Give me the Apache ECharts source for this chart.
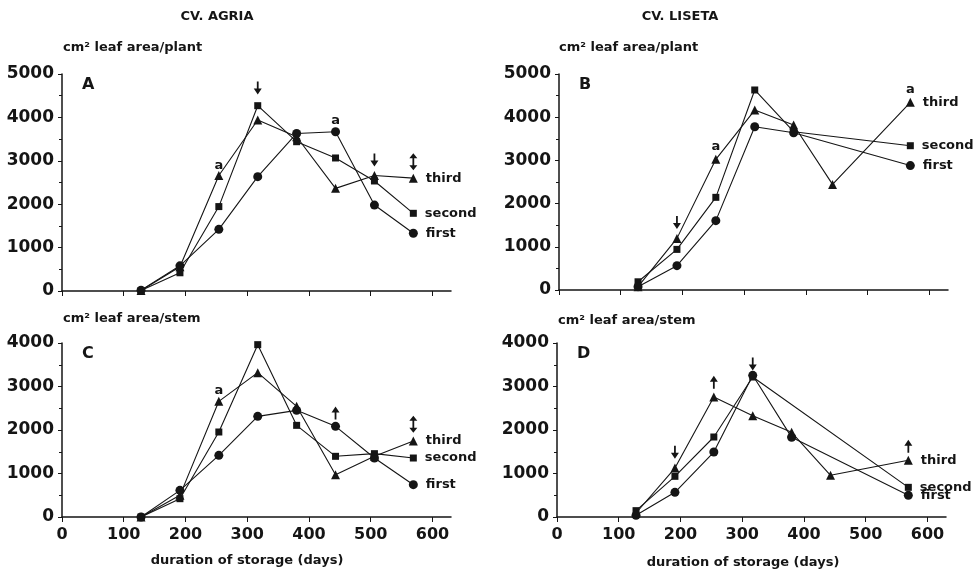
<!DOCTYPE html>
<html>
<head>
  <meta charset="utf-8">
  <title>leaf area</title>
  <style>
    html, body { margin: 0; padding: 0; background: #fff; }
    #chart { width: 977px; height: 574px; }
  </style>
</head>
<body>
  <div id="chart"></div>
  <script src="https://cdn.jsdelivr.net/npm/echarts@6/dist/echarts.min.js"></script>
  <script>
    // sampling days (duration of storage)
    const days = [128, 191, 254, 317, 380, 443, 506, 569];
    const xTicks = [0, 100, 200, 300, 400, 500, 600];

    // A: Agria, leaf area / plant
    const aFirst = [20, 580, 1420, 2635, 3630, 3670, 1980, 1330];
    const aSecond = [10, 420, 1945, 4270, 3440, 3065, 2535, 1790];
    const aThird = [10, 560, 2660, 3940, 3555, 2365, 2660, 2600];
    // B: Liseta, leaf area / plant (null = not sampled)
    const bFirst = [77, 563, 1605, 3780, 3640, null, null, 2880];
    const bSecond = [190, 940, 2145, 4630, 3665, null, null, 3340];
    const bThird = [77, 1195, 3025, 4165, 3820, 2445, null, 4345];
    // C: Agria, leaf area / stem
    const cFirst = [0, 613, 1418, 2314, 2452, 2084, 1356, 743];
    const cSecond = [0, 421, 1954, 3962, 2107, 1395, 1456, 1356];
    const cThird = [0, 498, 2659, 3318, 2544, 973, 1395, 1747];
    // D: Liseta, leaf area / stem
    const dFirst = [38, 567, 1494, 3257, 1831, null, null, 498];
    const dSecond = [146, 935, 1839, 3218, null, null, null, 682];
    const dThird = [92, 1126, 2759, 2330, 1946, 958, null, 1303];

    // significance letters [day, value]
    const lettersA = [[254, 2900], [443, 3930]];
    const lettersB = [[254, 3330], [569, 4640]];
    const lettersC = [[254, 2910]];
    const lettersD = [];
    // arrows [day, value, kind]  kind: down / up / both
    const arrowsA = [[317, 4680, 'down'], [506, 3020, 'down'], [569, 2980, 'both']];
    const arrowsB = [[191, 1560, 'down'], [317, 5020, 'up']];
    const arrowsC = [[317, 4290, 'down'], [443, 2390, 'up'], [569, 2130, 'both']];
    const arrowsD = [[191, 1490, 'down'], [254, 3100, 'up'], [317, 3520, 'down'], [569, 1625, 'up']];

    const panels = [
      { letter: 'A', first: aFirst, second: aSecond, third: aThird, letters: lettersA, arrows: arrowsA, max: 5000,
        grid: { left: 62, top: 74, width: 389, height: 217 }, labels: false },
      { letter: 'B', first: bFirst, second: bSecond, third: bThird, letters: lettersB, arrows: arrowsB, max: 5000,
        grid: { left: 559, top: 74, width: 389, height: 216 }, labels: false },
      { letter: 'C', first: cFirst, second: cSecond, third: cThird, letters: lettersC, arrows: arrowsC, max: 4000,
        grid: { left: 62, top: 343, width: 389, height: 174 }, labels: true },
      { letter: 'D', first: dFirst, second: dSecond, third: dThird, letters: lettersD, arrows: arrowsD, max: 4000,
        grid: { left: 557, top: 343, width: 389, height: 174 }, labels: true }
    ];

    const ink = '#151515';
    const bold = { fontFamily: 'DejaVu Sans', fontWeight: 'bold', color: ink };
    const arrowDown = 'path://M4,0 L6,0 L6,7 L9.5,7 L5,13 L0.5,7 L4,7 Z';
    const arrowBoth = 'path://M5,0 L9.5,5 L6,5 L6,12 L9.5,12 L5,17 L0.5,12 L4,12 L4,5 L0.5,5 Z';

    function lineData(vals, name) {
      return days.map((d, i) => {
        if (vals[i] === null) return [d, null];
        if (i === days.length - 1) {
          return { value: [d, vals[i]], label: { show: true, formatter: name } };
        }
        return [d, vals[i]];
      });
    }

    const grids = [], xAxes = [], yAxes = [], series = [];
    panels.forEach((p, i) => {
      grids.push(Object.assign({ containLabel: false, outerBoundsMode: 'none' }, p.grid));
      xAxes.push({
        type: 'value', gridIndex: i, min: 0, max: 630,
        axisLine: { lineStyle: { color: ink, width: 1.5 } },
        axisTick: { customValues: xTicks, length: 5, lineStyle: { color: ink } },
        axisLabel: Object.assign({ show: p.labels, customValues: xTicks, fontSize: 16, margin: 10 }, bold),
        splitLine: { show: false }
      });
      yAxes.push({
        type: 'value', gridIndex: i, min: 0, max: p.max, interval: 1000,
        axisLine: { show: true, lineStyle: { color: ink, width: 1.5 } },
        axisTick: { show: true, length: 4, lineStyle: { color: ink } },
        minorTick: { show: true, splitNumber: 2, length: 3, lineStyle: { color: ink } },
        axisLabel: Object.assign({ fontSize: 17, margin: 8, formatter: v => String(v) }, bold),
        splitLine: { show: false }
      });
      const common = {
        type: 'line', xAxisIndex: i, yAxisIndex: i, connectNulls: true,
        lineStyle: { color: ink, width: 1.1 },
        itemStyle: { color: ink },
        label: Object.assign({ position: 'right', distance: 8, fontSize: 13 }, bold),
        animation: false
      };
      series.push(Object.assign({}, common, { name: 'third', symbol: 'triangle', symbolSize: 9, data: lineData(p.third, 'third') }));
      series.push(Object.assign({}, common, { name: 'second', symbol: 'rect', symbolSize: 7, data: lineData(p.second, 'second') }));
      series.push(Object.assign({}, common, { name: 'first', symbol: 'circle', symbolSize: 9, data: lineData(p.first, 'first') }));
      series.push({
        type: 'scatter', xAxisIndex: i, yAxisIndex: i, symbolSize: 0, silent: true, animation: false,
        itemStyle: { color: ink, opacity: 1 },
        data: p.letters,
        label: Object.assign({ show: true, position: 'inside', fontSize: 13, formatter: 'a' }, bold)
      });
      series.push({
        type: 'scatter', xAxisIndex: i, yAxisIndex: i, silent: true, animation: false,
        itemStyle: { color: ink, opacity: 1 },
        data: p.arrows.map(a => ({
          value: [a[0], a[1]],
          symbol: a[2] === 'both' ? arrowBoth : arrowDown,
          symbolSize: a[2] === 'both' ? [8, 17] : [8, 13],
          symbolRotate: a[2] === 'up' ? 180 : 0
        }))
      });
    });

    function txt(x, y, s, size, align) {
      return { type: 'text', x: x, y: y, style: { text: s, fill: ink, font: 'bold ' + size + 'px "DejaVu Sans"', align: align || 'left', verticalAlign: 'middle' } };
    }

    const graphics = [
      txt(217, 17, 'CV. AGRIA', 13, 'center'),
      txt(680, 17, 'CV. LISETA', 13, 'center'),
      txt(63, 48, 'cm² leaf area/plant', 13),
      txt(559, 48, 'cm² leaf area/plant', 13),
      txt(63, 319, 'cm² leaf area/stem', 13),
      txt(558, 321, 'cm² leaf area/stem', 13),
      txt(247, 561, 'duration of storage (days)', 13, 'center'),
      txt(743, 563, 'duration of storage (days)', 13, 'center')
    ];
    panels.forEach(p => {
      graphics.push(txt(p.grid.left + 20, p.grid.top + 11, p.letter, 16));
    });

    const myChart = echarts.init(document.getElementById('chart'));
    myChart.setOption({
      animation: false,
      grid: grids,
      xAxis: xAxes,
      yAxis: yAxes,
      series: series,
      graphic: graphics
    });
  </script>
</body>
</html>
